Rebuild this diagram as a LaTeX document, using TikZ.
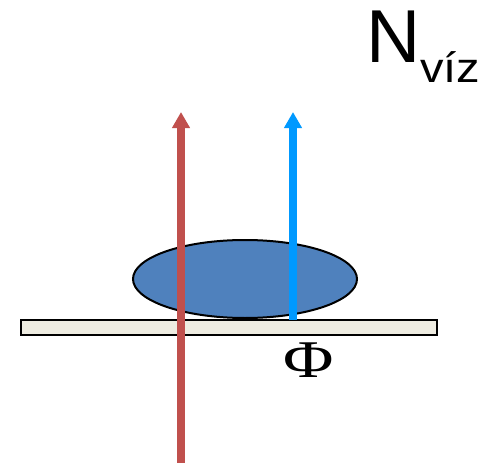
\documentclass[tikz,border=0pt]{standalone}
\usepackage{fontspec}
\setmainfont{Liberation Serif}
\newfontfamily\arialfont{Liberation Sans}
\usetikzlibrary{arrows.meta,shapes.geometric}
\definecolor{fluxred}{HTML}{C0504D}
\definecolor{fluxblue}{HTML}{0099FF}
\definecolor{dropblue}{HTML}{4F81BD}
\definecolor{platecol}{HTML}{EEECE1}
\tikzset{
  fluxline/.style={line width=8pt,-{Triangle[length=16pt,width=17pt]}},
  platebox/.style={draw=black,line width=2pt,fill=platecol,minimum width=416pt,minimum height=15pt,inner sep=0pt},
  drop/.style={draw=black,line width=2pt,fill=dropblue,ellipse,minimum width=224pt,minimum height=78pt,inner sep=0pt},
}
\begin{document}
\begin{tikzpicture}[x=1pt,y=-1pt]
\useasboundingbox (0,0) rectangle (485,463);
\node[drop] (drop) at (245,279) {};
\node[platebox] (plate) at (228.5,327.5) {};
\coordinate (redbot) at (181,463);
\coordinate (redtop) at (181,112);
\coordinate (bluebot) at (293,320);
\coordinate (bluetop) at (293,112);
\draw[fluxline,fluxred] (redbot) -- (redtop);
\draw[fluxline,fluxblue] (bluebot) -- (bluetop);
\node[anchor=base west,inner sep=0pt,font=\arialfont\fontsize{75}{75}\selectfont] (N) at (366,62) {N};
\node[anchor=base west,inner sep=0pt,xscale=1.12,font=\arialfont\fontsize{42}{42}\selectfont] (sub) at (420,82) {víz};
\node[inner sep=0pt,xscale=1.3,font=\fontsize{53}{53}\selectfont] (phi) at (309,360) {Φ};
\end{tikzpicture}
\end{document}
